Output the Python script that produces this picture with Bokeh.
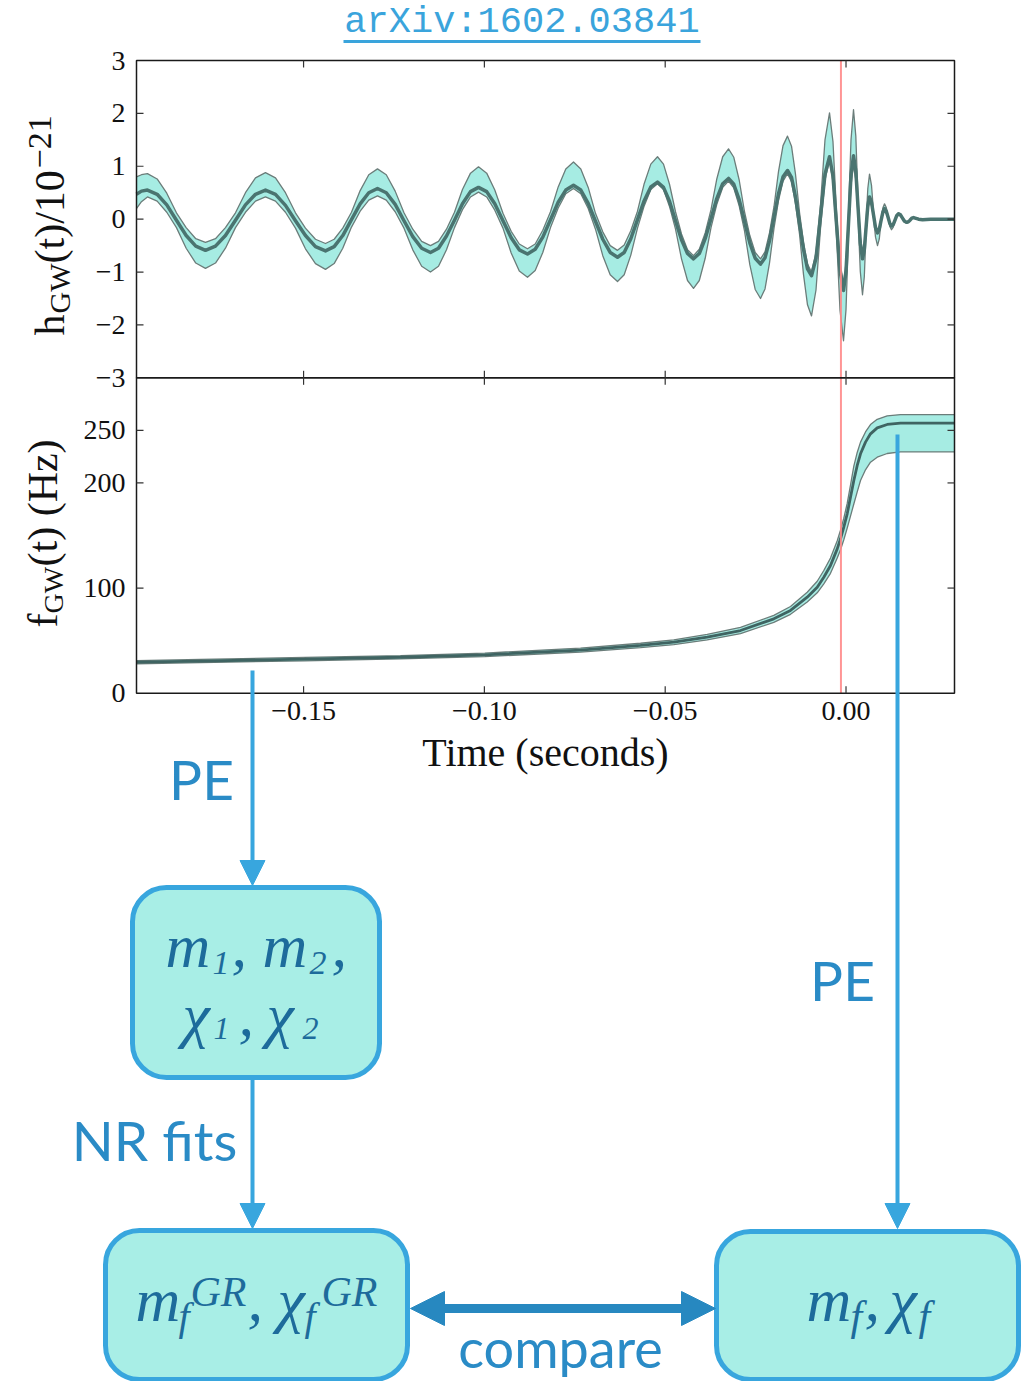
import numpy as np
from bokeh.plotting import figure
from bokeh.models import Range1d, Arrow, NormalHead
from bokeh.core.properties import value
from bokeh.embed import file_html
from bokeh.resources import INLINE

# ---------------- data ----------------
# strain h_GW(t)/1e-21 : median and 90% band
H_TIME = [
    -0.19621, -0.19483, -0.19317, -0.19049, -0.18783, -0.18515, -0.18247, -0.17981,
    -0.17713, -0.17436, -0.17160, -0.16883, -0.16607, -0.16330,
    -0.16054, -0.15777, -0.15501, -0.15224, -0.14948, -0.14671,
    -0.14394, -0.14154, -0.13916, -0.13675, -0.13435, -0.13197,
    -0.12956, -0.12713, -0.12467, -0.12223, -0.11980, -0.11734,
    -0.11491, -0.11269, -0.11048, -0.10827, -0.10606, -0.10384,
    -0.10163, -0.09936, -0.09712, -0.09486, -0.09259, -0.09035,
    -0.08808, -0.08595, -0.08385, -0.08172, -0.07959, -0.07749,
    -0.07536, -0.07334, -0.07129, -0.06928, -0.06726, -0.06521,
    -0.06319, -0.06134, -0.05951, -0.05766, -0.05581, -0.05398,
    -0.05213, -0.05047, -0.04881, -0.04715, -0.04549, -0.04383,
    -0.04217, -0.04057, -0.03894, -0.03733, -0.03573, -0.03410,
    -0.03249, -0.03103, -0.02954, -0.02807, -0.02660, -0.02511,
    -0.02364, -0.02240, -0.02116, -0.01991, -0.01867, -0.01742,
    -0.01618, -0.01507, -0.01397, -0.01286, -0.01175, -0.01065,
    -0.00954, -0.00830, -0.00705, -0.00581,
    -0.00456, -0.00360, -0.00263, -0.00166,
    -0.00069, 0.00000, 0.00069, 0.00138,
    0.00207, 0.00271, 0.00332, 0.00395,
    0.00456, 0.00506, 0.00553, 0.00603,
    0.00650, 0.00705, 0.00761, 0.00816,
    0.00871, 0.00921, 0.00968, 0.01018,
    0.01065, 0.01114, 0.01161, 0.01211,
    0.01258, 0.01308, 0.01355, 0.01405,
    0.01452, 0.01507, 0.01562, 0.01618,
    0.01673, 0.01723, 0.01770, 0.01820,
    0.01867, 0.02005, 0.02116, 0.02337, 0.03000,
]
H_MEDIAN = [
    0.47, 0.53, 0.55, 0.47, 0.27, -0.02, -0.31, -0.51,
    -0.59, -0.51, -0.31, -0.02, 0.27, 0.47,
    0.55, 0.47, 0.26, -0.03, -0.31, -0.52,
    -0.60, -0.52, -0.31, -0.01, 0.29, 0.50,
    0.58, 0.50, 0.28, -0.03, -0.33, -0.55,
    -0.63, -0.55, -0.32, -0.02, 0.29, 0.52,
    0.60, 0.52, 0.29, -0.03, -0.35, -0.58,
    -0.66, -0.57, -0.34, -0.01, 0.32, 0.55,
    0.64, 0.55, 0.30, -0.04, -0.38, -0.63,
    -0.72, -0.63, -0.37, -0.01, 0.35, 0.61,
    0.70, 0.60, 0.34, -0.03, -0.39, -0.65,
    -0.75, -0.65, -0.37, 0.01, 0.39, 0.67,
    0.77, 0.66, 0.37, -0.04, -0.45, -0.74,
    -0.85, -0.73, -0.41, 0.04, 0.48, 0.80,
    0.92, 0.79, 0.42, -0.08, -0.57, -0.94,
    -1.07, -0.74, 0.06, 0.85,
    1.18, 0.81, -0.09, -0.98,
    -1.35, -0.98, -0.08, 0.83,
    1.20, 0.91, 0.23, -0.46,
    -0.75, -0.58, -0.17, 0.25,
    0.42, 0.32, 0.08, -0.16,
    -0.26, -0.19, -0.03, 0.13,
    0.20, 0.15, 0.04, -0.08,
    -0.13, -0.10, -0.02, 0.07,
    0.10, 0.08, 0.02, -0.04,
    -0.06, -0.05, -0.02, 0.02,
    0.03, 0.00, -0.01, 0.00, 0.00,
]
H_UPPER = [
    0.80, 0.84, 0.86, 0.76, 0.49, 0.12, -0.16, -0.37,
    -0.44, -0.37, -0.16, 0.12, 0.50, 0.78,
    0.88, 0.78, 0.50, 0.12, -0.17, -0.38,
    -0.46, -0.38, -0.17, 0.13, 0.54, 0.84,
    0.95, 0.84, 0.53, 0.12, -0.19, -0.42,
    -0.50, -0.42, -0.19, 0.13, 0.56, 0.87,
    0.99, 0.87, 0.55, 0.11, -0.23, -0.47,
    -0.56, -0.47, -0.21, 0.14, 0.61, 0.95,
    1.08, 0.95, 0.60, 0.11, -0.24, -0.50,
    -0.59, -0.49, -0.22, 0.15, 0.67, 1.04,
    1.18, 1.04, 0.66, 0.14, -0.28, -0.58,
    -0.69, -0.57, -0.26, 0.18, 0.76, 1.18,
    1.33, 1.17, 0.74, 0.14, -0.31, -0.63,
    -0.75, -0.62, -0.26, 0.24, 0.90, 1.39,
    1.57, 1.38, 0.85, 0.13, -0.44, -0.85,
    -1.00, -0.63, 0.28, 1.50,
    2.01, 1.46, 0.14, -0.82,
    -1.22, -0.83, 0.13, 1.50,
    2.07, 1.57, 0.38, -0.33,
    -0.62, -0.46, -0.07, 0.58,
    0.85, 0.64, 0.13, -0.12,
    -0.22, -0.16, 0.00, 0.21,
    0.29, 0.22, 0.06, -0.06,
    -0.11, -0.08, 0.00, 0.09,
    0.12, 0.09, 0.03, -0.04,
    -0.07, -0.05, -0.01, 0.03,
    0.04, 0.01, 0.00, 0.01, 0.01,
]
H_LOWER = [
    0.20, 0.33, 0.42, 0.34, 0.13, -0.16, -0.55, -0.83,
    -0.93, -0.83, -0.55, -0.16, 0.13, 0.34,
    0.42, 0.34, 0.13, -0.17, -0.56, -0.84,
    -0.95, -0.84, -0.55, -0.15, 0.15, 0.36,
    0.44, 0.36, 0.14, -0.17, -0.58, -0.89,
    -1.00, -0.89, -0.58, -0.16, 0.18, 0.42,
    0.51, 0.42, 0.17, -0.17, -0.64, -0.98,
    -1.10, -0.97, -0.63, -0.16, 0.21, 0.48,
    0.58, 0.48, 0.20, -0.19, -0.69, -1.05,
    -1.18, -1.05, -0.68, -0.17, 0.25, 0.56,
    0.67, 0.56, 0.24, -0.19, -0.75, -1.16,
    -1.31, -1.16, -0.74, -0.16, 0.28, 0.60,
    0.72, 0.59, 0.25, -0.22, -0.86, -1.33,
    -1.50, -1.32, -0.83, -0.17, 0.35, 0.72,
    0.86, 0.71, 0.29, -0.28, -1.05, -1.62,
    -1.83, -1.34, -0.17, 0.74,
    1.12, 0.70, -0.31, -1.72,
    -2.30, -1.71, -0.28, 0.64,
    1.02, 0.74, 0.08, -0.99,
    -1.43, -1.09, -0.27, 0.17,
    0.35, 0.26, 0.03, -0.34,
    -0.50, -0.37, -0.06, 0.09,
    0.15, 0.11, 0.02, -0.14,
    -0.20, -0.15, -0.04, 0.05,
    0.08, 0.06, 0.01, -0.05,
    -0.08, -0.06, -0.03, 0.01,
    0.02, -0.01, -0.02, -0.01, -0.01,
]

# frequency f_GW(t) in Hz : median and band
F_TIME = [-0.19621, -0.17851, -0.14975, -0.12320, -0.09989, -0.07342, -0.05683,
          -0.04762, -0.03838, -0.02918, -0.01997, -0.01535, -0.01073, -0.00796,
          -0.00614, -0.00429, -0.00243, -0.00152, -0.00061, 0.00033, 0.00124,
          0.00216, 0.00310, 0.00401, 0.00539, 0.00677, 0.00863, 0.01139,
          0.01507, 0.03000]
F_MEDIAN = [29.5, 30.6, 32.4, 34.2, 36.5, 41.0, 45.4, 48.5, 53.3, 59.6, 70.7, 78.7,
            91.3, 100.8, 110.3, 121.5, 137.3, 146.9, 157.9, 170.6, 186.4, 202.3,
            216.6, 227.7, 238.8, 246.7, 252.4, 255.6, 256.8, 256.8]
F_UPPER = [31.0, 32.1, 34.0, 35.8, 38.2, 42.9, 47.5, 50.8, 55.9, 62.6, 74.0, 82.5,
           96.0, 106.5, 116.7, 128.5, 145.0, 155.0, 166.5, 180.5, 198.0, 216.0,
           229.0, 238.8, 248.5, 255.5, 260.5, 263.8, 265.0, 265.0]
F_LOWER = [28.0, 29.1, 30.8, 32.6, 34.8, 39.1, 43.3, 46.2, 50.7, 56.6, 67.4, 75.0,
           86.7, 95.5, 104.0, 114.0, 128.5, 136.5, 146.0, 157.0, 168.5, 180.0,
           191.5, 202.3, 212.5, 219.7, 224.5, 228.0, 229.5, 229.5]

T_MERGER = -0.0014
T_RANGE = (-0.1962, 0.0300)
H_RANGE = (-3.0, 3.0)
F_RANGE = (0.0, 300.0)
TIME_TICKS = [-0.15, -0.10, -0.05, 0.00]
TIME_TICK_LABELS = ["\u22120.15", "\u22120.10", "\u22120.05", "0.00"]
H_TICKS = [-3, -2, -1, 0, 1, 2, 3]
H_TICK_LABELS = ["\u22123", "\u22122", "\u22121", "0", "1", "2", "3"]
F_TICKS = [0, 100, 200, 250]
F_TICK_LABELS = ["0", "100", "200", "250"]

# ---------------- layout (page pixels) ----------------
W, HGT = 1025, 1381
PX_L, PX_R = 136.0, 954.0
PY_HT, PY_HB = 60.0, 377.3
PY_FT, PY_FB = 377.3, 692.7
TICK_PX = 7.0
BL = 0.37   # alphabetic-baseline correction (fraction of font size)

SERIF = value("Liberation Serif")
SANS = value("Lato")
BAND_FILL = "#a6ece3"
BAND_EDGE = "#6b7d7a"
MED = "#4a7470"
FRAME = "#1a1a1a"
RED = "#ff8a8a"
BLUE = "#38a6de"
DARK_BLUE = "#2788c0"
LABEL_BLUE = "#2a8bc6"
BOX_FILL = "#a8eee6"
BOX_TEXT = "#1d6b9b"


def lin(p, p0, p1, v0, v1):
    return v0 + (p - p0) * (v1 - v0) / (p1 - p0)


p = figure(width=W, height=HGT, x_range=Range1d(0, W), y_range=Range1d(HGT, 0),
           output_backend="svg", toolbar_location=None, min_border=0,
           x_axis_location=None, y_axis_location=None, outline_line_color=None,
           background_fill_color="white", border_fill_color="white")
p.xgrid.visible = False
p.ygrid.visible = False

p.extra_x_ranges = {"t": Range1d(lin(0, PX_L, PX_R, *T_RANGE), lin(W, PX_L, PX_R, *T_RANGE))}
p.extra_y_ranges = {
    "h": Range1d(lin(HGT, PY_HB, PY_HT, *H_RANGE), lin(0, PY_HB, PY_HT, *H_RANGE)),
    "f": Range1d(lin(HGT, PY_FB, PY_FT, *F_RANGE), lin(0, PY_FB, PY_FT, *F_RANGE)),
}
T0, T1 = T_RANGE
dt = TICK_PX * (T1 - T0) / (PX_R - PX_L)
dh = TICK_PX * (H_RANGE[1] - H_RANGE[0]) / (PY_HB - PY_HT)
df = TICK_PX * (F_RANGE[1] - F_RANGE[0]) / (PY_FB - PY_FT)

H_KW = dict(x_range_name="t", y_range_name="h")
F_KW = dict(x_range_name="t", y_range_name="f")

# ---- strain panel ----
p.varea(x=H_TIME, y1=H_LOWER, y2=H_UPPER, fill_color=BAND_FILL, **H_KW)
p.line(H_TIME, H_UPPER, line_color=BAND_EDGE, line_width=1.3, line_join="round", **H_KW)
p.line(H_TIME, H_LOWER, line_color=BAND_EDGE, line_width=1.3, line_join="round", **H_KW)
p.line(H_TIME, H_MEDIAN, line_color=MED, line_width=3.5, line_join="round", **H_KW)

# ---- frequency panel ----
p.varea(x=F_TIME, y1=F_LOWER, y2=F_UPPER, fill_color=BAND_FILL, **F_KW)
p.line(F_TIME, F_UPPER, line_color=BAND_EDGE, line_width=1.3, **F_KW)
p.line(F_TIME, F_LOWER, line_color=BAND_EDGE, line_width=1.3, **F_KW)
p.line(F_TIME, F_MEDIAN, line_color="#3f6462", line_width=2.8, **F_KW)

# merger time marker
p.segment(x0=[T_MERGER], y0=[H_RANGE[0]], x1=[T_MERGER], y1=[H_RANGE[1]],
          line_color=RED, line_width=2, line_alpha=0.9, **H_KW)
p.segment(x0=[T_MERGER], y0=[F_RANGE[0]], x1=[T_MERGER], y1=[F_RANGE[1]],
          line_color=RED, line_width=2, line_alpha=0.9, **F_KW)

# frames
p.quad(left=[T0], right=[T1], bottom=[H_RANGE[0]], top=[H_RANGE[1]],
       fill_alpha=0, line_color=FRAME, line_width=1.5, **H_KW)
p.quad(left=[T0], right=[T1], bottom=[F_RANGE[0]], top=[F_RANGE[1]],
       fill_alpha=0, line_color=FRAME, line_width=1.5, **F_KW)

# ticks (inward, all four sides)
h_in = [v for v in H_TICKS if H_RANGE[0] < v < H_RANGE[1]]
f_in = [v for v in F_TICKS if F_RANGE[0] < v < F_RANGE[1]]
TK = dict(line_color="#333333", line_width=1.2)
p.segment(x0=[T0] * len(h_in), y0=h_in, x1=[T0 + dt] * len(h_in), y1=h_in, **TK, **H_KW)
p.segment(x0=[T1] * len(h_in), y0=h_in, x1=[T1 - dt] * len(h_in), y1=h_in, **TK, **H_KW)
p.segment(x0=[T0] * len(f_in), y0=f_in, x1=[T0 + dt] * len(f_in), y1=f_in, **TK, **F_KW)
p.segment(x0=[T1] * len(f_in), y0=f_in, x1=[T1 - dt] * len(f_in), y1=f_in, **TK, **F_KW)
n = len(TIME_TICKS)
for lo, hi, d, kw in [(H_RANGE[0], H_RANGE[1], dh, H_KW), (F_RANGE[0], F_RANGE[1], df, F_KW)]:
    p.segment(x0=TIME_TICKS, y0=[lo] * n, x1=TIME_TICKS, y1=[lo + d] * n, **TK, **kw)
    p.segment(x0=TIME_TICKS, y0=[hi] * n, x1=TIME_TICKS, y1=[hi - d] * n, **TK, **kw)

# tick labels
LBL = dict(text_font=SERIF, text_font_size="28px", text_color="#111111")
p.text(x=[T0] * len(H_TICKS), y=H_TICKS, text=H_TICK_LABELS, x_offset=-11,
       text_align="right", text_baseline="middle", **LBL, **H_KW)
p.text(x=[T0] * len(F_TICKS), y=F_TICKS, text=F_TICK_LABELS, x_offset=-11,
       text_align="right", text_baseline="middle", **LBL, **F_KW)
p.text(x=TIME_TICKS, y=[F_RANGE[0]] * n, text=TIME_TICK_LABELS, y_offset=9,
       text_align="center", text_baseline="top", **LBL, **F_KW)
p.text(x=[(T0 + T1) / 2], y=[F_RANGE[0]], text=["Time (seconds)"], y_offset=74 - BL * 40,
       text_align="center", text_baseline="alphabetic", text_font=SERIF,
       text_font_size="40px", text_color="#111111", **F_KW)

# rotated axis titles (pieces for sub/superscripts); x is the baseline position
def rot_piece(txt, x, y, size):
    p.text(x=[x - BL * size], y=[y], text=[txt], angle=np.pi / 2, text_align="left",
           text_baseline="alphabetic", text_font=SERIF, text_font_size=f"{size}px",
           text_color="#111111")

rot_piece("h", 65, 335, 42)
rot_piece("GW", 70, 313, 30)
rot_piece("(t)/10", 65, 263, 42)
rot_piece("\u221221", 52, 168, 34)

rot_piece("f", 58, 627, 42)
rot_piece("GW", 63, 613, 28)
rot_piece("(t) (Hz)", 58, 566, 42)

# title link
p.text(x=[521.5], y=[35 - BL * 37], text=["arXiv:1602.03841"], text_align="center",
       text_baseline="alphabetic", text_font=value("Liberation Mono"),
       text_font_size="37px", text_color="#3aa4dc")
p.segment(x0=[343], y0=[41], x1=[700], y1=[41], line_color="#3aa4dc", line_width=3)

# ---------------- flow diagram ----------------
p.quad(left=[132, 105, 716], right=[379, 407, 1018], top=[887, 1230, 1231],
       bottom=[1077, 1379, 1379], fill_color=BOX_FILL, line_color=BLUE,
       line_width=5, border_radius=34)

for (xs, ys, xe, ye) in [(252, 670, 252, 885), (252, 1079, 252, 1228), (897, 434, 897, 1228)]:
    p.add_layout(Arrow(end=NormalHead(size=25, fill_color=BLUE, line_color=BLUE, line_width=1),
                       x_start=xs, y_start=ys, x_end=xe, y_end=ye,
                       line_color=BLUE, line_width=4))
p.add_layout(Arrow(start=NormalHead(size=34, fill_color=DARK_BLUE, line_color=DARK_BLUE, line_width=1),
                   end=NormalHead(size=34, fill_color=DARK_BLUE, line_color=DARK_BLUE, line_width=1),
                   x_start=410, y_start=1308, x_end=715, y_end=1308,
                   line_color=DARK_BLUE, line_width=9))


def diag_label(txt, x, y, size=55):
    p.text(x=[x], y=[y - BL * size], text=[txt], text_font=SANS,
           text_font_size=f"{size}px", text_color=LABEL_BLUE,
           text_align="center", text_baseline="alphabetic")

diag_label("PE", 201, 799)
diag_label("NR fits", 154, 1160)
diag_label("PE", 842, 1000)
diag_label("compare", 560, 1367, 54)


def box_piece(txt, x, y, size):
    p.text(x=[x], y=[y - BL * size], text=[txt], text_align="left", text_baseline="alphabetic",
           text_font=SERIF, text_font_style="italic", text_font_size=f"{size}px",
           text_color=BOX_TEXT)

# m1, m2, / chi1, chi2
box_piece("m", 165, 968, 62)
box_piece("1", 212, 975, 34)
box_piece(",", 231, 968, 62)
box_piece("m", 262, 968, 62)
box_piece("2", 309, 975, 34)
box_piece(",", 331, 968, 62)
box_piece("\u03c7", 182, 1037, 62)
box_piece("1", 213, 1040, 32)
box_piece(",", 238, 1037, 62)
box_piece("\u03c7", 266, 1037, 62)
box_piece("2", 302, 1040, 32)
# m_f^GR, chi_f^GR
box_piece("m", 135, 1322, 62)
box_piece("f", 178, 1331, 40)
box_piece("GR", 190, 1307, 42)
box_piece(",", 247, 1322, 62)
box_piece("\u03c7", 277, 1322, 62)
box_piece("f", 304, 1331, 40)
box_piece("GR", 321, 1307, 42)
# m_f, chi_f
box_piece("m", 806, 1322, 62)
box_piece("f", 850, 1331, 42)
box_piece(",", 864, 1322, 62)
box_piece("\u03c7", 889, 1322, 62)
box_piece("f", 918, 1331, 42)

open("out.html", "w").write(file_html(p, INLINE))
